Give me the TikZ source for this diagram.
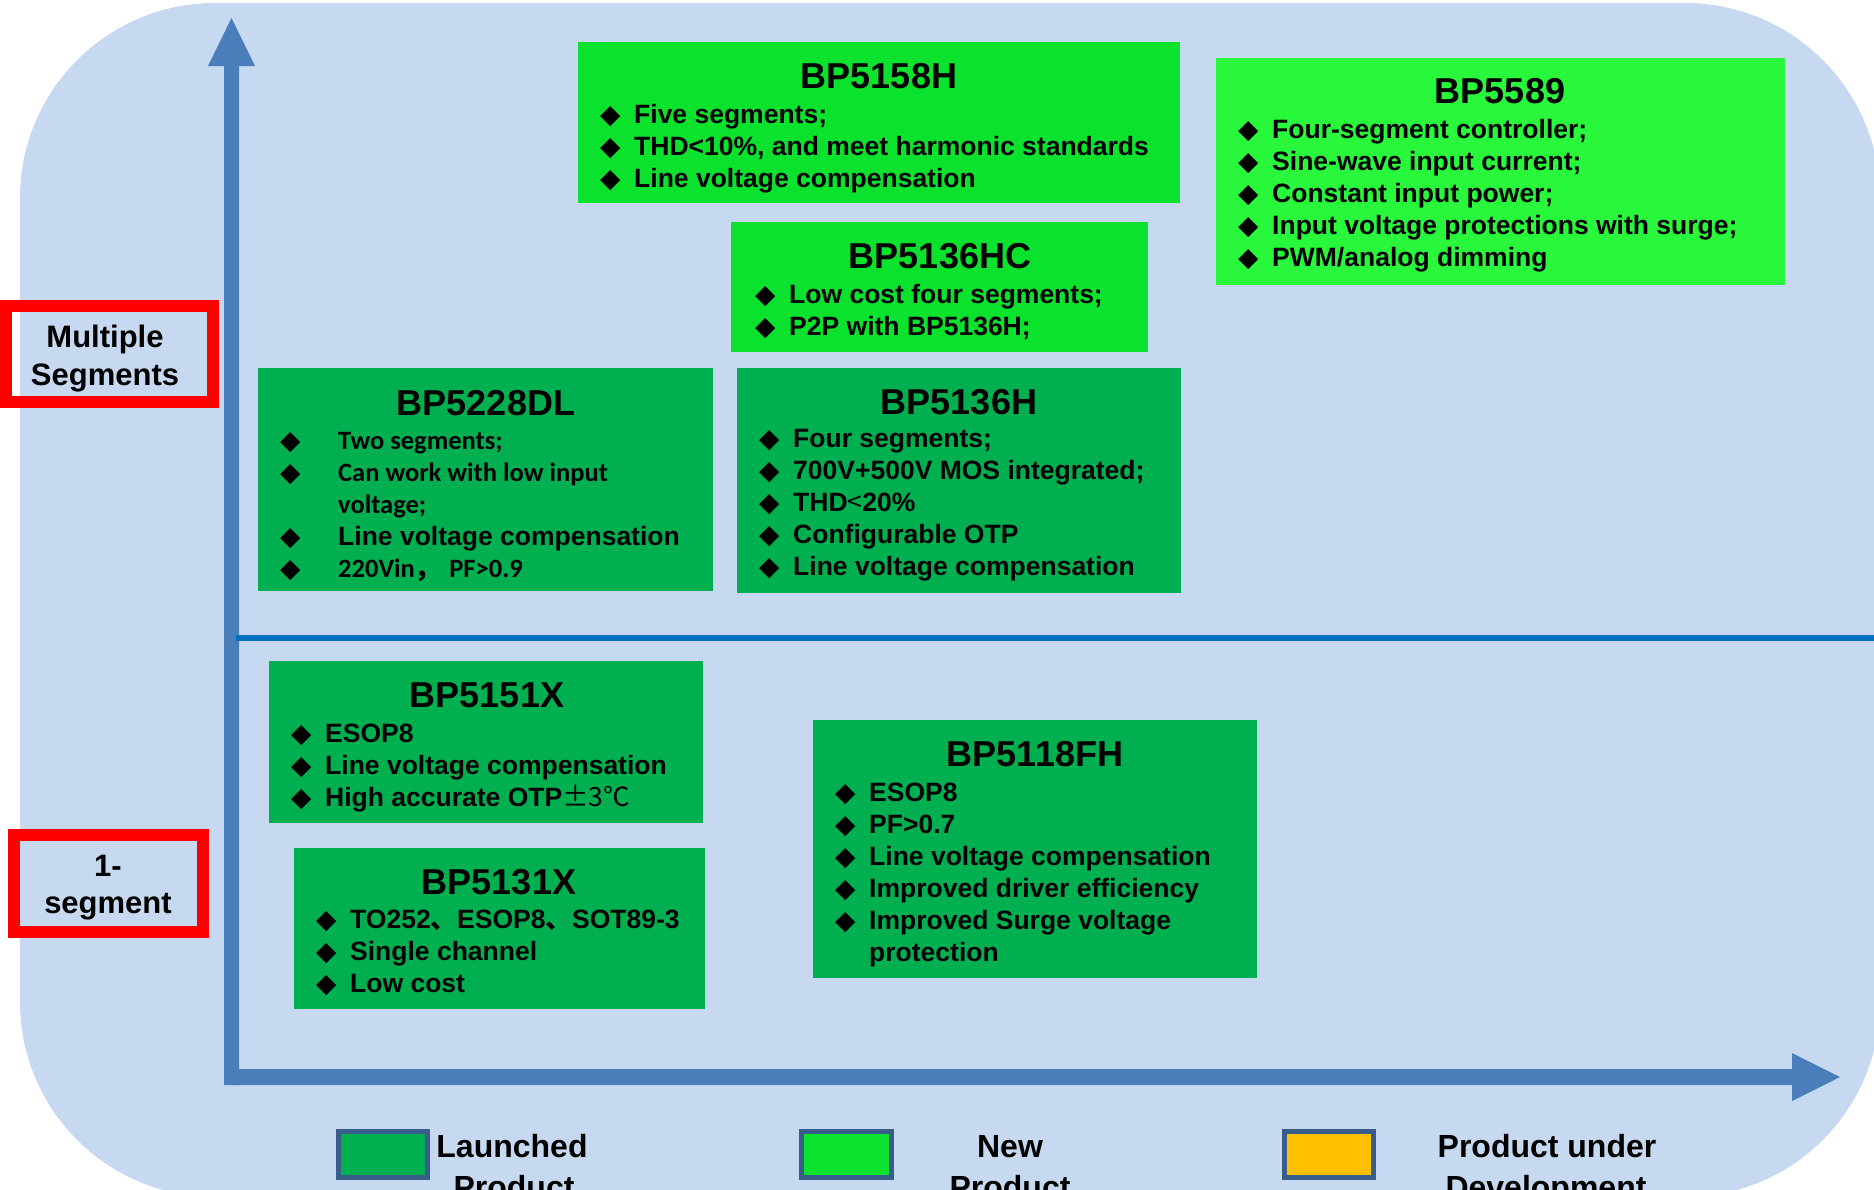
\documentclass[tikz,border=0pt]{standalone}
\usepackage{fontspec}
\setmainfont{Liberation Sans}
\newfontfamily\symf{DejaVu Sans}
\newfontfamily\cjk{Noto Sans CJK SC}
\newfontfamily\carl{Carlito}
\definecolor{paleblue}{RGB}{198,217,240}
\definecolor{axisblue}{RGB}{74,126,187}
\definecolor{lineblue}{RGB}{0,112,192}
\definecolor{oldgreen}{RGB}{0,176,80}
\definecolor{newgreen}{RGB}{10,226,45}
\definecolor{brightgreen}{RGB}{40,247,60}
\definecolor{devyellow}{RGB}{255,192,0}
\definecolor{swatchedge}{RGB}{56,93,138}
\newcommand\bul{\makebox[34pt][l]{\symf\char"25C6}}
\newcommand\wbul{\makebox[58pt][l]{\symf\char"25C6}}
\tikzset{
  title/.style={anchor=base, inner sep=0pt, font=\bfseries\fontsize{36}{40}\selectfont},
  item/.style={anchor=base west, inner sep=0pt, font=\bfseries\fontsize{26.5}{32}\selectfont},
  calitem/.style={anchor=base west, inner sep=0pt, font=\carl\bfseries\fontsize{26.5}{32}\selectfont},
  tag/.style={anchor=base, inner sep=0pt, font=\bfseries\fontsize{31}{36}\selectfont},
  legend/.style={anchor=base, inner sep=0pt, font=\bfseries\fontsize{32}{38}\selectfont},
  swatch/.style={draw=swatchedge, line width=5pt}
}
\begin{document}
\begin{tikzpicture}[x=1pt,y=-1pt]
      \useasboundingbox (0,0) rectangle (1874,1189);
      \fill[paleblue, rounded corners=195pt] (20,3) rectangle (1880,1197);
      \fill[axisblue] (224,1085) -- (224,66) -- (208,66) -- (231.5,18) -- (255,66) -- (239,66) -- (239,1085) -- cycle;
      \fill[axisblue] (231,1069) -- (1792,1069) -- (1792,1053) -- (1840,1077) -- (1792,1101) -- (1792,1085) -- (231,1085) -- cycle;
      \draw[lineblue, line width=6.5pt] (236,638) -- (1874,638);

      \draw[red, line width=12pt] (6,306) rectangle (213,402);
      \node[tag] (multi1) at (105,347) {Multiple};
      \node[tag] (multi2) at (105,385) {Segments};
      \draw[red, line width=12pt] (14,835) rectangle (203,932);
      \node[tag] (one1) at (108,876) {1-};
      \node[tag] (one2) at (108,913) {segment};

      \fill[newgreen] (578,42) rectangle (1180,203);
      \node[title] (t5158) at (879,88) {BP5158H};
      \node[item] (i5158a) at (600,123) {\bul Five segments;};
      \node[item] (i5158b) at (600,155) {\bul THD<10\%, and meet harmonic standards};
      \node[item] (i5158c) at (600,187) {\bul Line voltage compensation};

      \fill[newgreen] (731,222) rectangle (1148,352);
      \node[title] (t5136hc) at (940,268) {BP5136HC};
      \node[item] (i5136hca) at (755,303) {\bul Low cost four segments;};
      \node[item] (i5136hcb) at (755,335) {\bul P2P with BP5136H;};

      \fill[brightgreen] (1216,58) rectangle (1785,285);
      \node[title] (t5589) at (1500,103) {BP5589};
      \node[item] (i5589a) at (1238,138) {\bul Four-segment controller;};
      \node[item] (i5589b) at (1238,170) {\bul Sine-wave input current;};
      \node[item] (i5589c) at (1238,202) {\bul Constant input power;};
      \node[item] (i5589d) at (1238,234) {\bul Input voltage protections with surge;};
      \node[item] (i5589e) at (1238,266) {\bul PWM/analog dimming};

      \fill[oldgreen] (258,368) rectangle (713,591);
      \node[title] (t5228) at (486,415) {BP5228DL};
      \node[calitem] (i5228a) at (280,449) {\wbul Two segments;};
      \node[calitem] (i5228b) at (280,481) {\wbul Can work with low input};
      \node[calitem] (i5228c) at (338,513) {voltage;};
      \node[item] (i5228d) at (280,545) {\wbul Line voltage compensation};
      \node[calitem] (i5228e) at (280,577) {\wbul 220Vin{\cjk ，}\hspace{8pt}PF>0.9};

      \fill[oldgreen] (737,368) rectangle (1181,593);
      \node[title] (t5136h) at (959,414) {BP5136H};
      \node[item] (i5136ha) at (759,447) {\bul Four segments;};
      \node[item] (i5136hb) at (759,479) {\bul 700V+500V MOS integrated;};
      \node[item] (i5136hc) at (759,511) {\bul THD{\cjk\mdseries <}20\%};
      \node[item] (i5136hd) at (759,543) {\bul Configurable OTP};
      \node[item] (i5136he) at (759,575) {\bul Line voltage compensation};

      \fill[oldgreen] (269,661) rectangle (703,823);
      \node[title] (t5151) at (487,707) {BP5151X};
      \node[item] (i5151a) at (291,742) {\bul ESOP8};
      \node[item] (i5151b) at (291,774) {\bul Line voltage compensation};
      \node[item] (i5151c) at (291,806) {\bul High accurate OTP{\cjk\mdseries ±3℃}};

      \fill[oldgreen] (294,848) rectangle (705,1009);
      \node[title] (t5131) at (499,894) {BP5131X};
      \node[item] (i5131a) at (316,928) {\bul TO252{\cjk 、}ESOP8{\cjk 、}SOT89-3};
      \node[item] (i5131b) at (316,960) {\bul Single channel};
      \node[item] (i5131c) at (316,992) {\bul Low cost};

      \fill[oldgreen] (813,720) rectangle (1257,978);
      \node[title] (t5118) at (1035,766) {BP5118FH};
      \node[item] (i5118a) at (835,801) {\bul ESOP8};
      \node[item] (i5118b) at (835,833) {\bul PF>0.7};
      \node[item] (i5118c) at (835,865) {\bul Line voltage compensation};
      \node[item] (i5118d) at (835,897) {\bul Improved driver efficiency};
      \node[item] (i5118e) at (835,929) {\bul Improved Surge voltage};
      \node[item] (i5118f) at (869,961) {protection};

      \draw[swatch, fill=oldgreen] (338,1131) rectangle (427,1177);
      \node[legend] (lgold1) at (512,1157) {Launched};
      \node[legend] (lgold2) at (514,1198) {Product};
      \draw[swatch, fill=newgreen] (801,1131) rectangle (891,1177);
      \node[legend] (lgnew1) at (1010,1157) {New};
      \node[legend] (lgnew2) at (1010,1198) {Product};
      \draw[swatch, fill=devyellow] (1284,1131) rectangle (1373,1177);
      \node[legend] (lgdev1) at (1547,1157) {Product under};
      \node[legend] (lgdev2) at (1546,1198) {Development};
    \end{tikzpicture}
\end{document}
